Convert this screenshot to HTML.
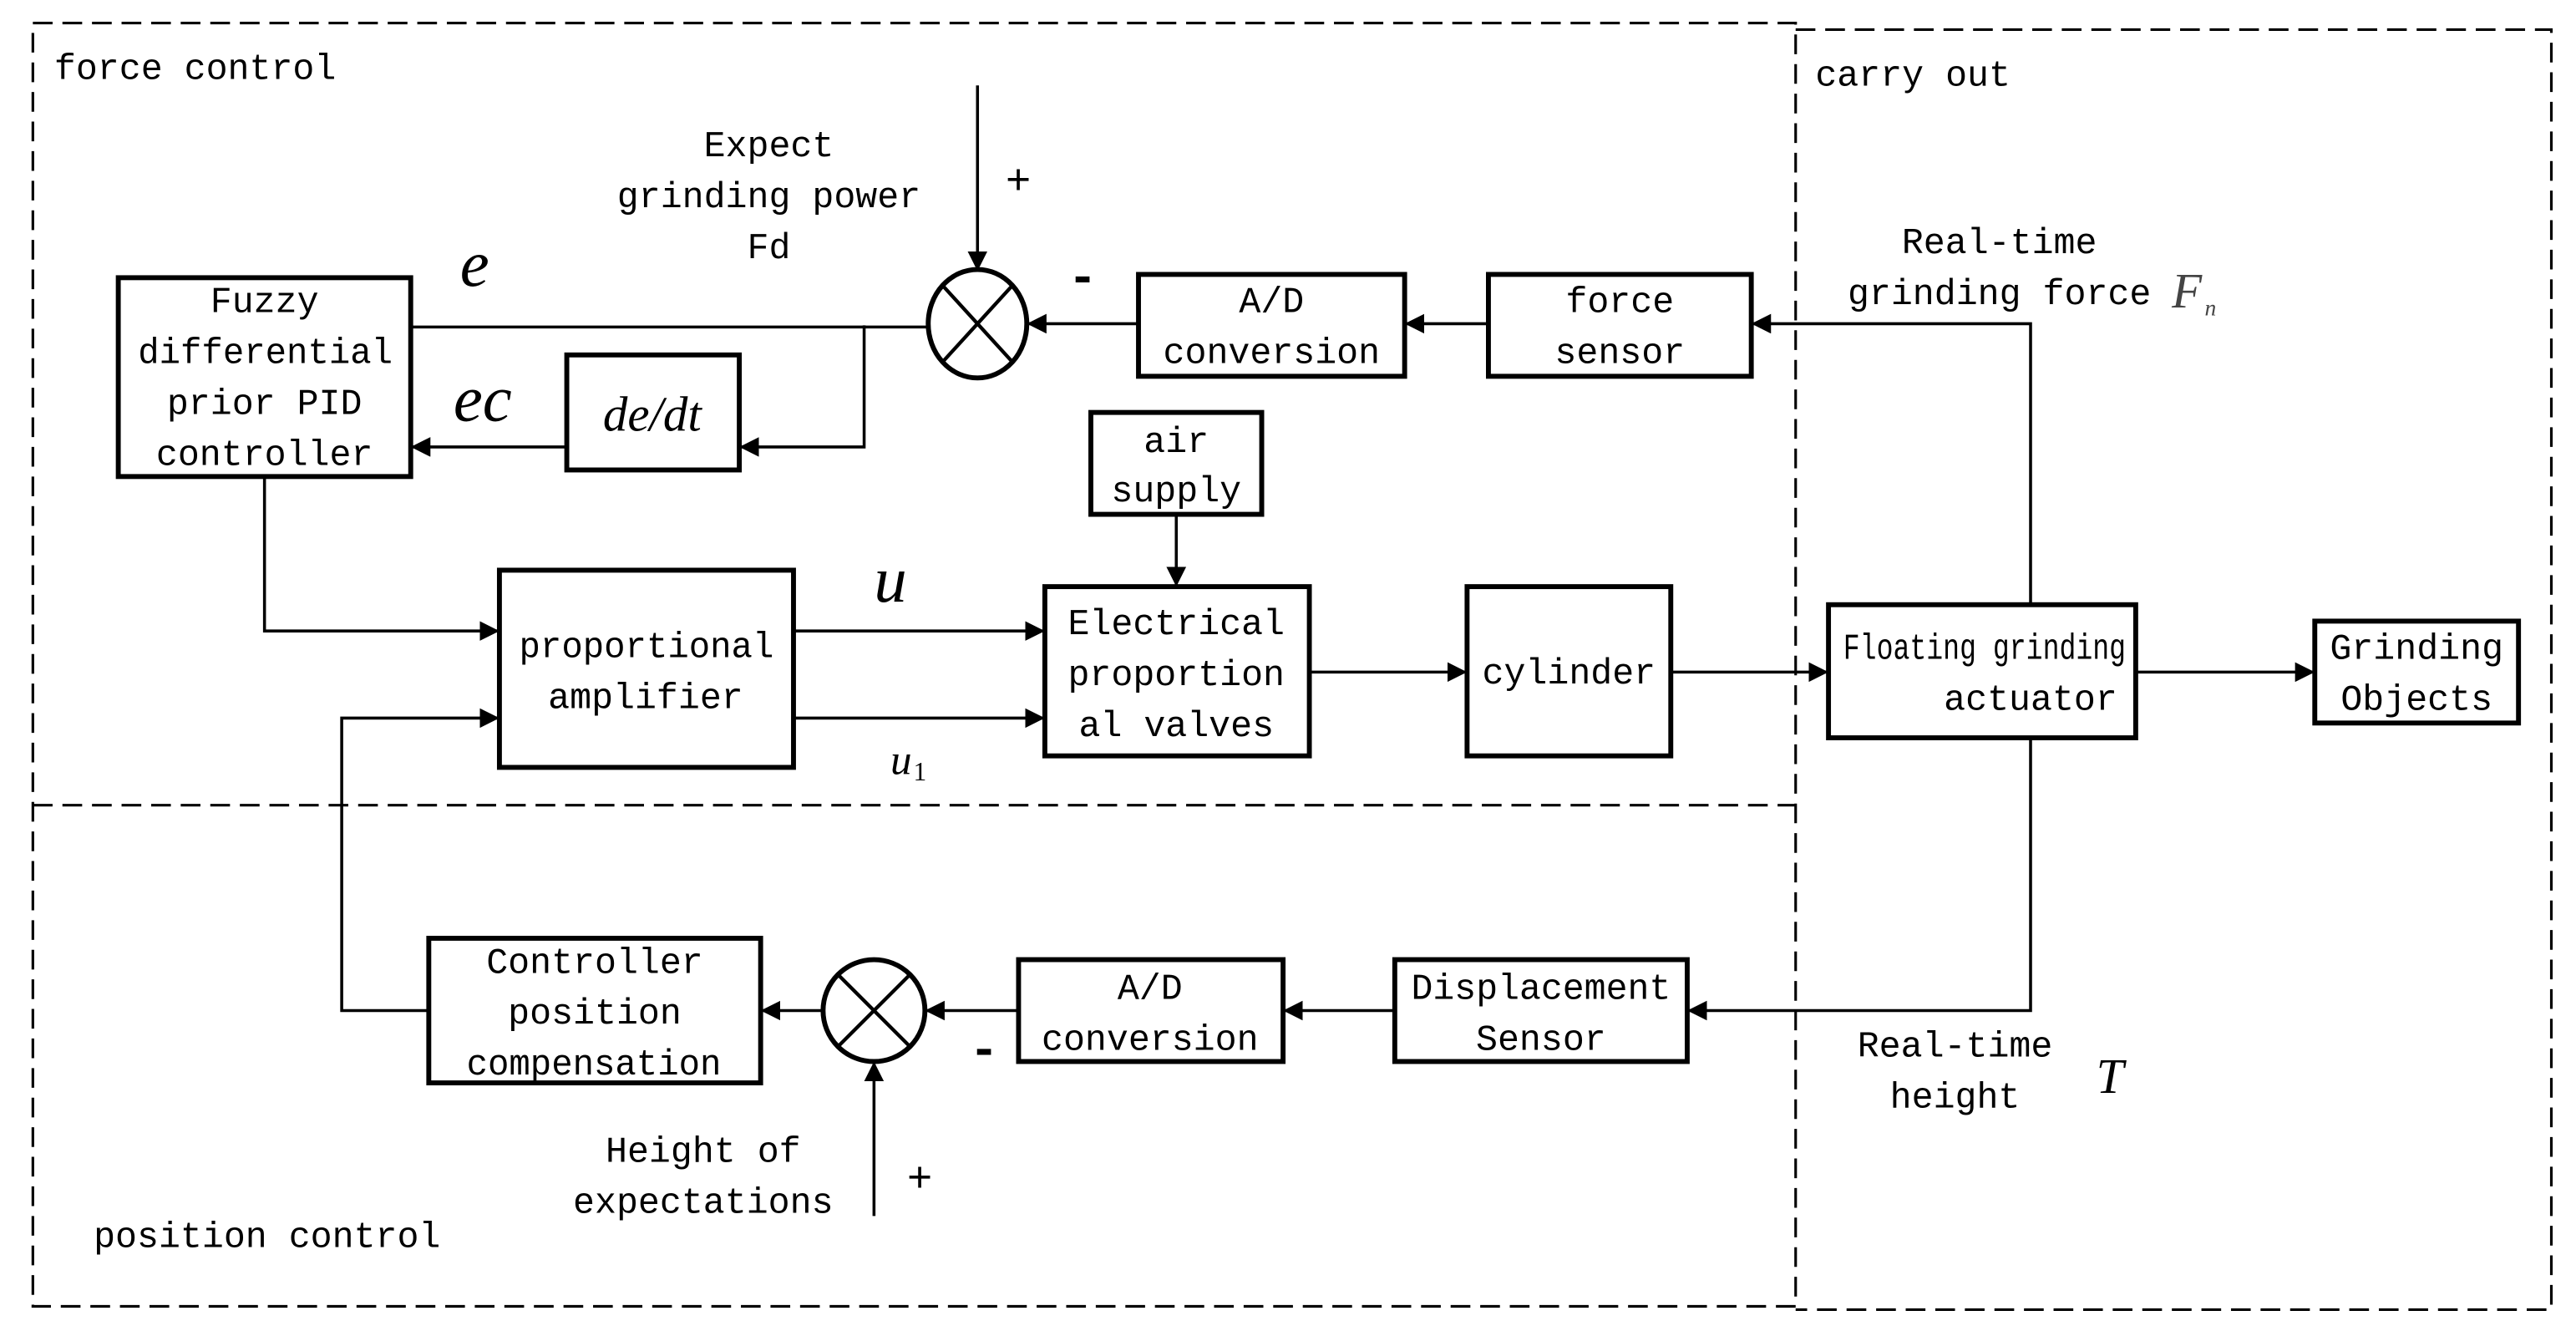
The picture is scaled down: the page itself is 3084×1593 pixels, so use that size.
<!DOCTYPE html>
<html><head><meta charset="utf-8"><style>
html,body{margin:0;padding:0;background:#fff;}
svg{display:block;}
text{font-family:"Liberation Mono","DejaVu Sans Mono",monospace;font-size:22px;fill:#000;}
.it{font-family:"Liberation Serif",serif;font-style:italic;}
</style></head><body>
<svg width="3084" height="1593" viewBox="0 0 1568 810" preserveAspectRatio="none" xmlns="http://www.w3.org/2000/svg">
<defs><marker id="a" markerWidth="12" markerHeight="12" refX="11" refY="6" orient="auto" markerUnits="userSpaceOnUse"><path d="M0,0 L12,6 L0,12 z" fill="#000"/></marker></defs>
<g fill="none" stroke="#000" stroke-width="1.6" stroke-dasharray="12,6">
<path d="M20,14 H1093 V795 H20 Z"/>
<path d="M20,490 H1093"/>
<path d="M1093,18 H1553 V797 H1093"/>
</g>
<text x="33" y="48">force control</text>
<text x="1105" y="52">carry out</text>
<text x="57" y="759">position control</text>
<g fill="#fff" stroke="#000" stroke-width="3">
<rect x="72" y="169" width="178" height="121"/>
<rect x="345" y="216" width="105" height="70"/>
<rect x="693" y="167" width="162" height="62"/>
<rect x="906" y="167" width="160" height="62"/>
<rect x="664" y="251" width="104" height="62"/>
<rect x="636" y="357" width="161" height="103"/>
<rect x="893" y="357" width="124" height="103"/>
<rect x="304" y="347" width="179" height="120"/>
<rect x="1113" y="368" width="187" height="81"/>
<rect x="1409" y="378" width="124" height="62"/>
<rect x="261" y="571" width="202" height="88"/>
<rect x="620" y="584" width="161" height="62"/>
<rect x="849" y="584" width="178" height="62"/>
<ellipse cx="595" cy="197" rx="30" ry="33"/>
<ellipse cx="532" cy="615" rx="31" ry="31"/>
</g>
<g stroke="#000" stroke-width="2.2">
<path d="M574,174 L616,220 M616,174 L574,220"/>
<path d="M510,593 L554,637 M554,593 L510,637"/>
</g>
<g fill="none" stroke="#000" stroke-width="1.8" marker-end="url(#a)">
<path d="M595,52 V164"/>
<path d="M526,198 V272 H451"/>
<path d="M345,272 H251"/>
<path d="M693,197 H626"/>
<path d="M906,197 H856"/>
<path d="M1236,368 V197 H1067"/>
<path d="M161,290 V384 H303"/>
<path d="M483,384 H635"/>
<path d="M483,437 H635"/>
<path d="M716,313 V356"/>
<path d="M797,409 H892"/>
<path d="M1017,409 H1112"/>
<path d="M1300,409 H1408"/>
<path d="M1236,449 V615 H1028"/>
<path d="M849,615 H782"/>
<path d="M620,615 H564"/>
<path d="M501,615 H464"/>
<path d="M261,615 H208 V437 H303"/>
<path d="M532,740 V647"/>
</g>
<path d="M250,199 H565" stroke="#000" stroke-width="1.8"/>
<text x="84" y="221" textLength="155" lengthAdjust="spacingAndGlyphs">differential</text>
<text x="316" y="400" textLength="155" lengthAdjust="spacingAndGlyphs">proportional</text>
<text x="1122" y="401" textLength="172" lengthAdjust="spacingAndGlyphs">Floating grinding</text>
<text x="284" y="654" textLength="155" lengthAdjust="spacingAndGlyphs">compensation</text>
<text x="859" y="608" textLength="158" lengthAdjust="spacingAndGlyphs">Displacement</text>
<g text-anchor="middle">
<text x="161" y="190">Fuzzy</text>
<text x="161" y="252">prior PID</text>
<text x="161" y="283">controller</text>
<text x="774" y="190">A/D</text>
<text x="774" y="221">conversion</text>
<text x="986" y="190">force</text>
<text x="986" y="221">sensor</text>
<text x="716" y="275">air</text>
<text x="716" y="305">supply</text>
<text x="716" y="386">Electrical</text>
<text x="716" y="417">proportion</text>
<text x="716" y="448">al valves</text>
<text x="955" y="416">cylinder</text>
<text x="393" y="431">amplifier</text>
<text x="1236" y="432">actuator</text>
<text x="1471" y="401">Grinding</text>
<text x="1471" y="432">Objects</text>
<text x="362" y="592">Controller</text>
<text x="362" y="623">position</text>
<text x="700" y="608">A/D</text>
<text x="700" y="639">conversion</text>
<text x="938" y="639">Sensor</text>
<text x="468" y="95">Expect</text>
<text x="468" y="126">grinding power</text>
<text x="468" y="157">Fd</text>
<text x="1217" y="154">Real-time</text>
<text x="1217" y="185">grinding force</text>
<text x="1190" y="643">Real-time</text>
<text x="1190" y="674">height</text>
<text x="428" y="707">Height of</text>
<text x="428" y="738">expectations</text>
<text x="397" y="262" class="it" style="font-size:30px">de/dt</text>
</g>
<text x="280" y="174" class="it" style="font-size:40px">e</text>
<text x="276" y="256" class="it" style="font-size:40px">ec</text>
<text x="532" y="366" class="it" style="font-size:40px">u</text>
<text x="542" y="471" class="it" style="font-size:26px">u</text>
<text x="556" y="475" style="font-family:'Liberation Serif',serif;font-size:16px">1</text>
<text x="1322" y="187" class="it" style="font-size:30px;fill:#444">F</text>
<text x="1342" y="192" class="it" style="font-size:14px;fill:#444">n</text>
<text x="1276" y="665" class="it" style="font-size:30px">T</text>
<text x="612" y="118" style="font-size:26px">+</text>
<text x="650" y="178" style="font-size:30px;font-weight:bold">-</text>
<text x="590" y="648" style="font-size:30px;font-weight:bold">-</text>
<text x="552" y="725" style="font-size:26px">+</text>
</svg>
</body></html>
